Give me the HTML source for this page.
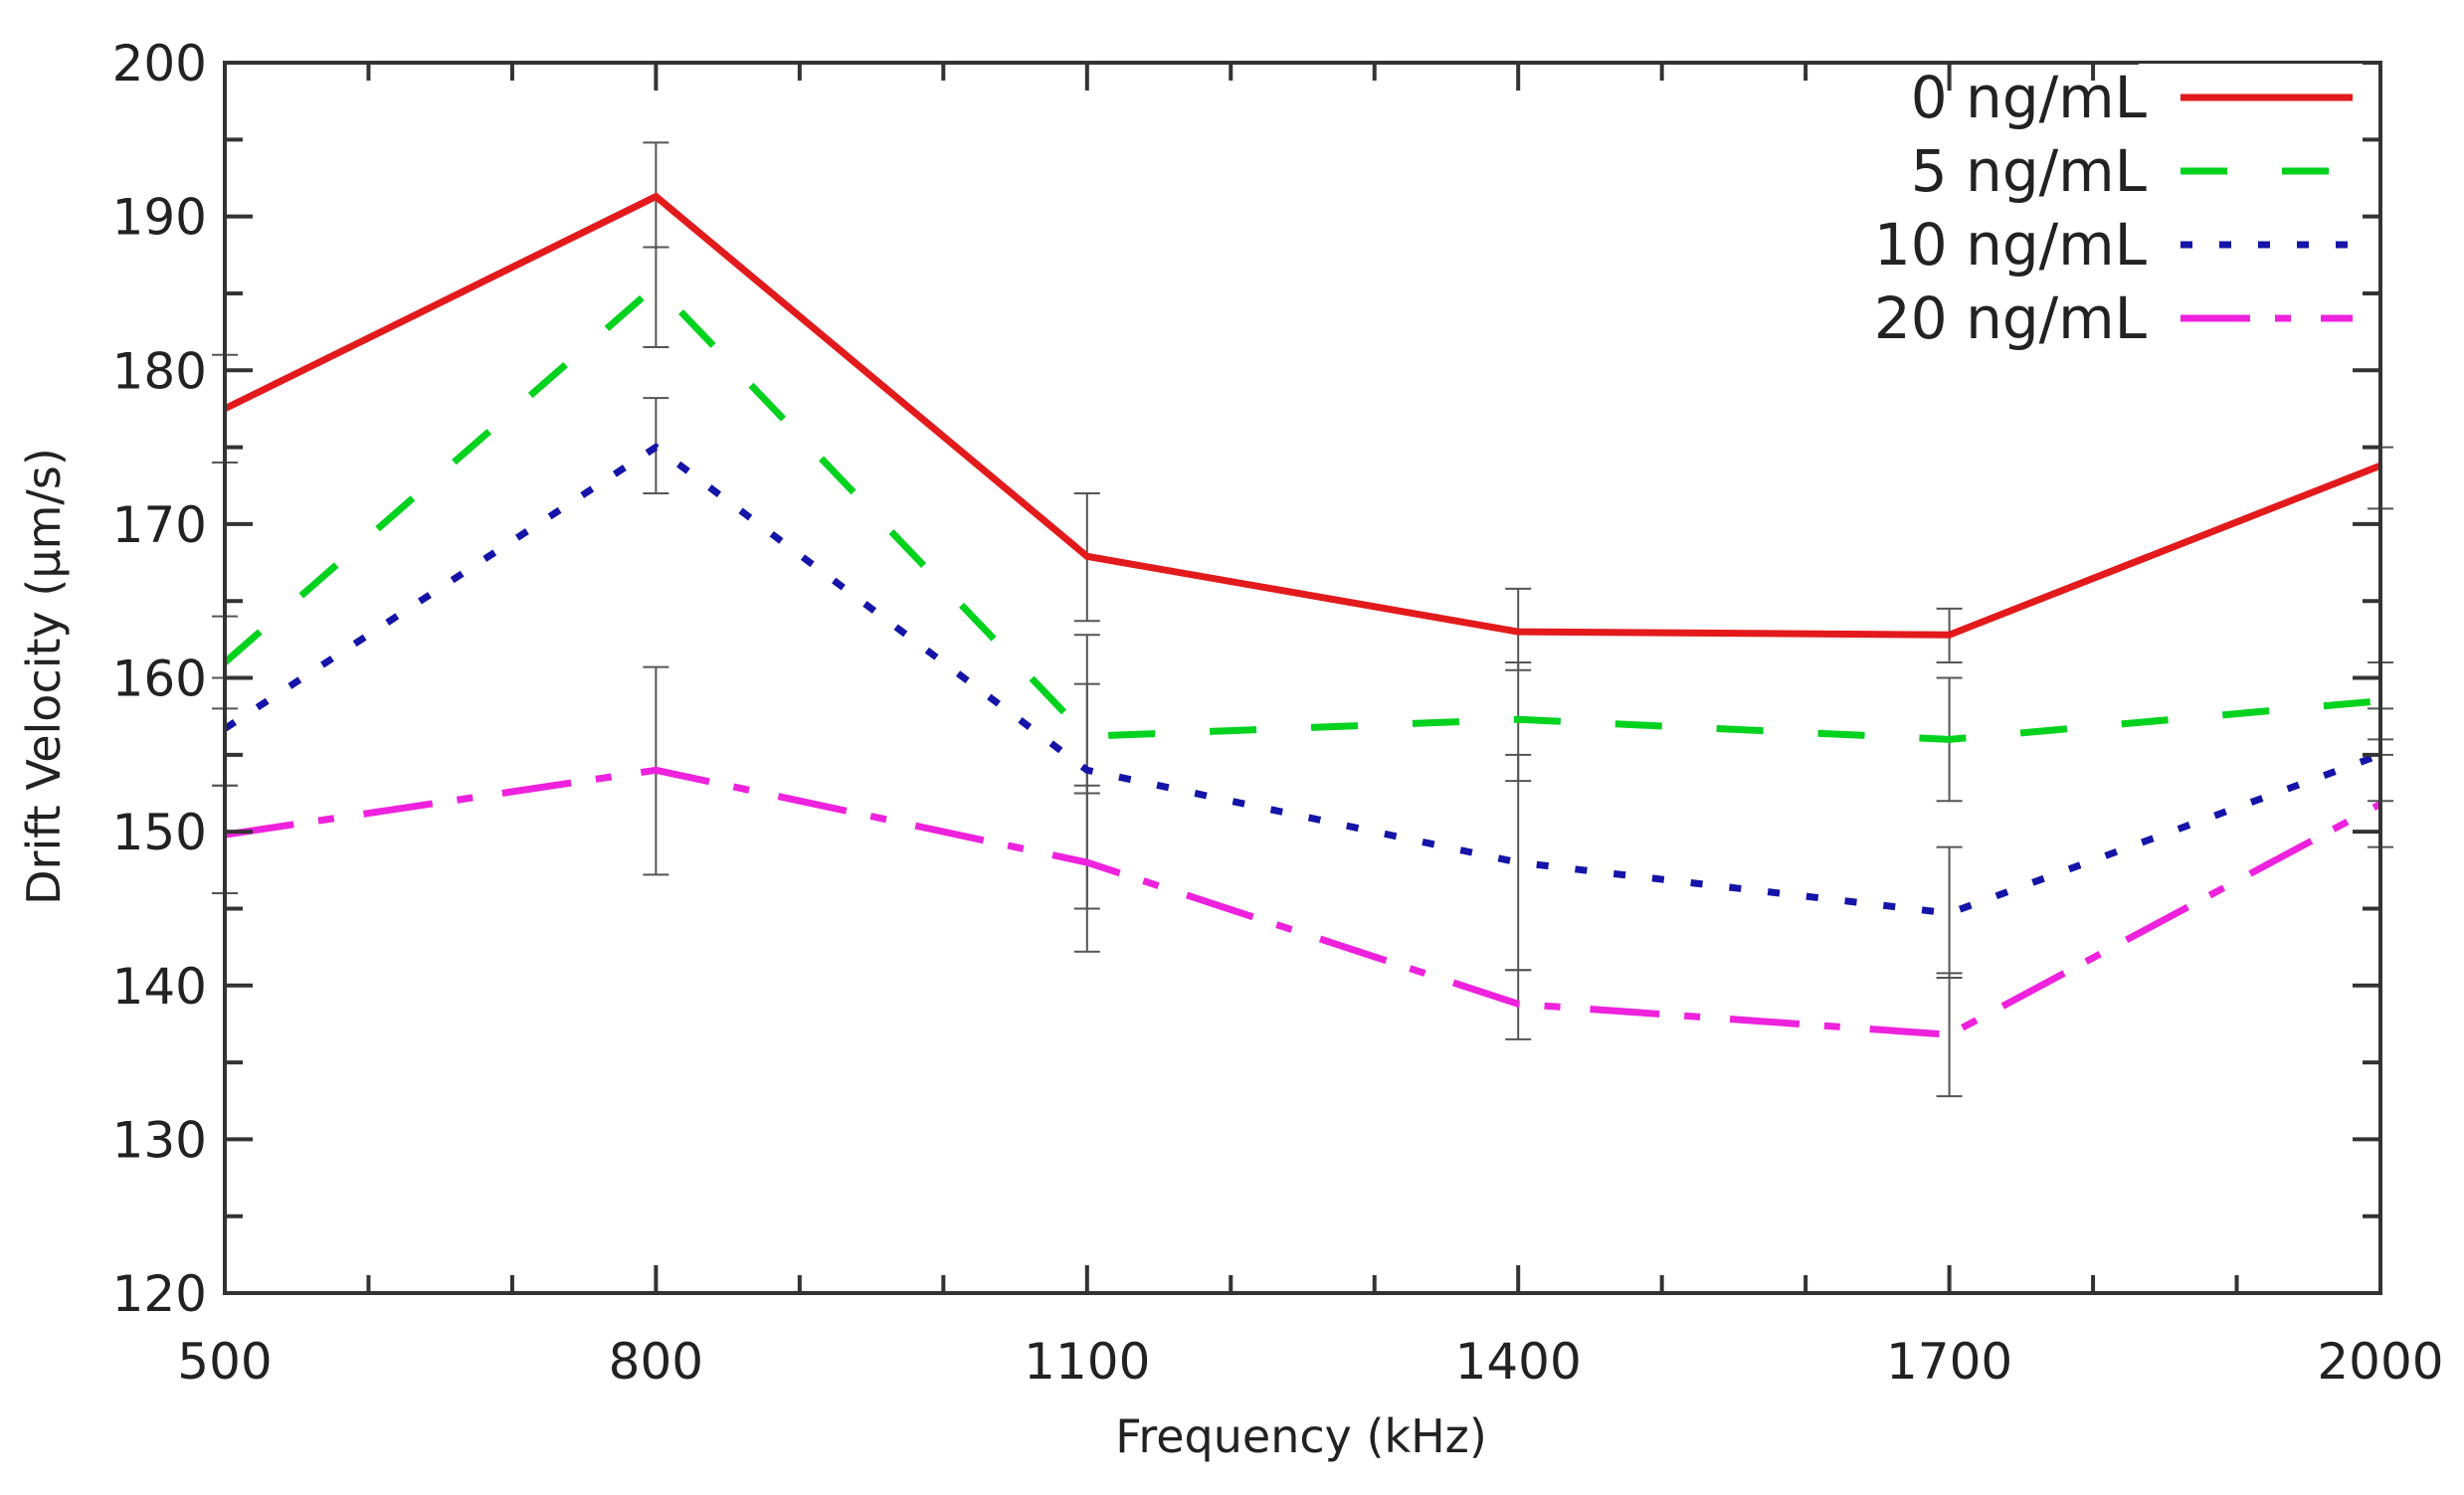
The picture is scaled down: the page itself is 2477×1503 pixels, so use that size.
<!DOCTYPE html>
<html><head><meta charset="utf-8"><style>
html,body{margin:0;padding:0;background:#fff}
svg{display:block}
text{font-family:"DejaVu Sans","Liberation Sans",sans-serif;fill:#222}
</style></head><body>
<svg id="s" width="2477" height="1503" xmlns="http://www.w3.org/2000/svg"></svg>
<script>
const s=document.getElementById('s');
const L=226,R=2393,T=63,B=1300;
const X=v=>L+(v-500)*(R-L)/1500, Y=v=>T+(200-v)*(B-T)/80;
let h='';
const eb=[[800,188,194.8],[800,181.5,188],[800,172,178.2],[800,147.2,160.7],
[1100,163.7,172],[1100,152.5,159.6],[1100,145,162.8],[1100,142.2,153],
[1400,160.5,165.8],[1400,153.3,161],[1400,141,155],[1400,136.5,141],
[1700,161,164.5],[1700,152,160],[1700,140.5,149],[1700,132.8,140.8],
[500,174,181],[500,158,164],[500,153,160],[500,146,153],[2000,171,175],[2000,156,161],[2000,152,158],[2000,149,155]];
for(const [x,a,b] of eb){const xx=X(x);
h+=`<path d="M${xx} ${Y(a)}V${Y(b)}M${xx-13} ${Y(a)}h26M${xx-13} ${Y(b)}h26" stroke="#555" stroke-width="2" fill="none"/>`;}
const xs=[500,800,1100,1400,1700,2000];
const ser=[
["#e31a1c",[177.5,191.3,167.9,163,162.8,173.8],""],
["#00d21e",[161,185.5,156.2,157.3,156,158.5],"47 55"],
["#1414a8",[156.7,175,154,148,144.7,155],"12 27"],
["#ee22dd",[149.8,154,148,138.8,136.8,151.8],"70 25 16 30"]];
for(const [c,d,da] of ser){
h+=`<polyline points="${xs.map((x,i)=>X(x)+','+Y(d[i])).join(' ')}" fill="none" stroke="${c}" stroke-width="7" ${da?`stroke-dasharray="${da}"`:''}/>`;}
h+=`<rect x="${L}" y="${T}" width="${R-L}" height="${B-T}" fill="none" stroke="#333" stroke-width="4"/>`;
for(let v=500;v<=2000;v+=100){const x=X(v),maj=(v-500)%300==0,l=maj?28:18;
h+=`<path d="M${x} ${B}v-${l}M${x} ${T}v${l}" stroke="#333" stroke-width="4"/>`;
if(maj)h+=`<text x="${x}" y="${B+86}" font-size="50" text-anchor="middle">${v}</text>`;}
for(let v=120;v<=200;v+=5){const y=Y(v),maj=v%10==0,l=maj?28:18;
h+=`<path d="M${L} ${y}h${l}M${R} ${y}h-${l}" stroke="#333" stroke-width="4"/>`;
if(maj)h+=`<text x="${L-18}" y="${y+18}" font-size="50" text-anchor="end">${v}</text>`;}
h+=`<text x="1308" y="1460" font-size="46" text-anchor="middle">Frequency (kHz)</text>`;
h+=`<text transform="translate(60,680) rotate(-90)" font-size="46" text-anchor="middle">Drift Velocity (µm/s)</text>`;
const lab=["0 ng/mL","5 ng/mL","10 ng/mL","20 ng/mL"];
ser.forEach(([c,d,da],i)=>{const y=98+i*74;
h+=`<rect x="2150" y="${y-34}" width="225" height="70" fill="#fff"/>`;
h+=`<text x="2158" y="${y+20}" font-size="58" text-anchor="end">${lab[i]}</text>`;
h+=`<line x1="2192" y1="${y}" x2="2365" y2="${y}" stroke="${c}" stroke-width="7" ${da?`stroke-dasharray="${da}"`:''}/>`;});
s.innerHTML=h;
</script>
</body></html>
